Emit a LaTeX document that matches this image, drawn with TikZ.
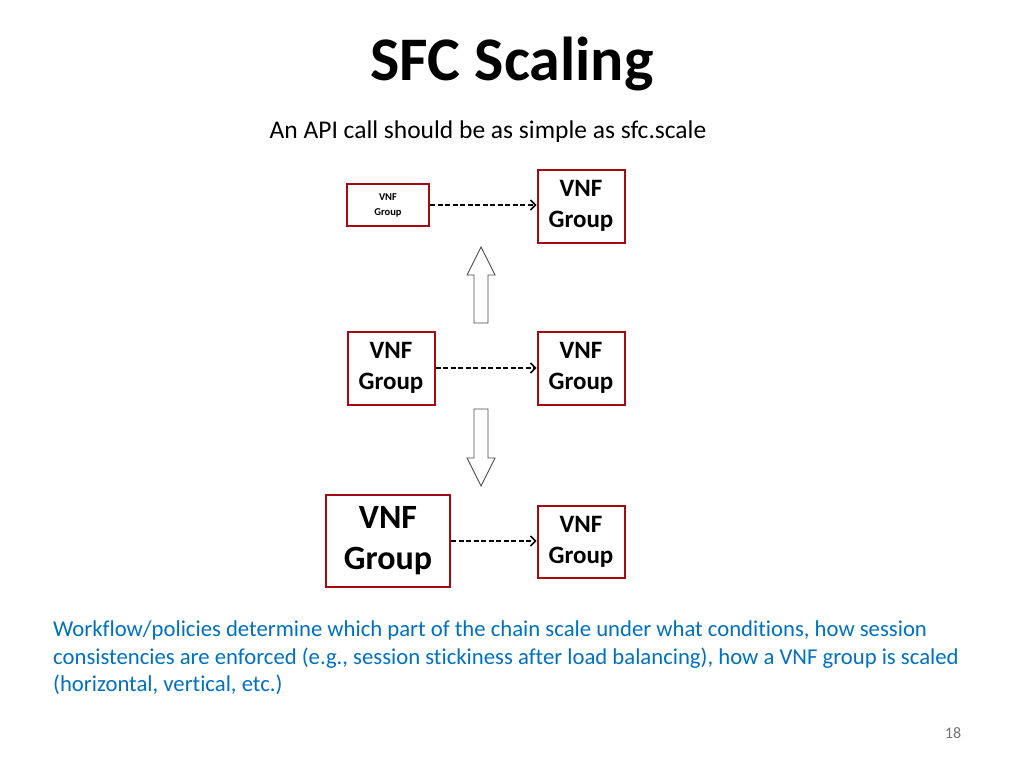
\documentclass[tikz,border=0pt]{standalone}
\usepackage{fontspec}
\setmainfont[Ligatures={NoCommon}]{Carlito}
\usetikzlibrary{arrows.meta}
\definecolor{boxred}{RGB}{165,10,20}
\definecolor{blu}{RGB}{0,112,192}
\begin{document}
\begin{tikzpicture}[x=1pt,y=-1pt,
  vbox/.style={draw=boxred,line width=2pt,fill=white,align=center,inner sep=0pt},
  dar/.style={dash pattern=on 5pt off 2.5pt,line width=1.5pt,-{Straight Barb[length=5pt,width=10pt]}},
  hol/.style={draw=black!70,line width=0.9pt,fill=white}]
\useasboundingbox (0,0) rectangle (1024,768);
\node[font=\bfseries\fontsize{62}{66}\selectfont] (t) at (512,64) {SFC Scaling};
\node[font=\fontsize{25.5}{30}\selectfont] (s) at (488,132) {An API call should be as simple as sfc.scale};
\node[vbox,minimum width=82pt,minimum height=42pt,font=\bfseries\fontsize{10.5}{15}\selectfont] (a1) at (388,205) {VNF\\Group};
\node[vbox,minimum width=87pt,minimum height=73pt,font=\bfseries\fontsize{25}{31}\selectfont] (b1) at (581,206) {VNF\\Group};
\node[vbox,minimum width=87pt,minimum height=73pt,font=\bfseries\fontsize{25}{31}\selectfont] (a2) at (391,368) {VNF\\Group};
\node[vbox,minimum width=87pt,minimum height=73pt,font=\bfseries\fontsize{25}{31}\selectfont] (b2) at (581,368) {VNF\\Group};
\node[vbox,minimum width=124pt,minimum height=92pt,font=\bfseries\fontsize{34}{41}\selectfont] (a3) at (388,541) {VNF\\Group};
\node[vbox,minimum width=87pt,minimum height=72pt,font=\bfseries\fontsize{25}{31}\selectfont] (b3) at (581,542) {VNF\\Group};
\draw[dar] (a1.east) -- (b1.west|-a1.east);
\draw[dar] (a2.east) -- (b2.west);
\draw[dar] (a3.east) -- (b3.west|-a3.east);
\draw[hol] (474,323) -- (488,323) -- (488,275) -- (495,275) -- (481,247) -- (467,275) -- (474,275) -- cycle;
\draw[hol] (474,409) -- (488,409) -- (488,458) -- (495,458) -- (481,486) -- (467,458) -- (474,458) -- cycle;
\node[anchor=north west,text=blu,font=\fontsize{22.7}{27.5}\selectfont,align=left,inner sep=0pt] (w) at (53,621) {Workflow/policies determine which part of the chain scale under what conditions, how session\\consistencies are enforced (e.g., session stickiness after load balancing), how a VNF group is scaled\\(horizontal, vertical, etc.)};
\node[text=black!55,font=\fontsize{16}{18}\selectfont] (n) at (953,733) {18};
\end{tikzpicture}
\end{document}
